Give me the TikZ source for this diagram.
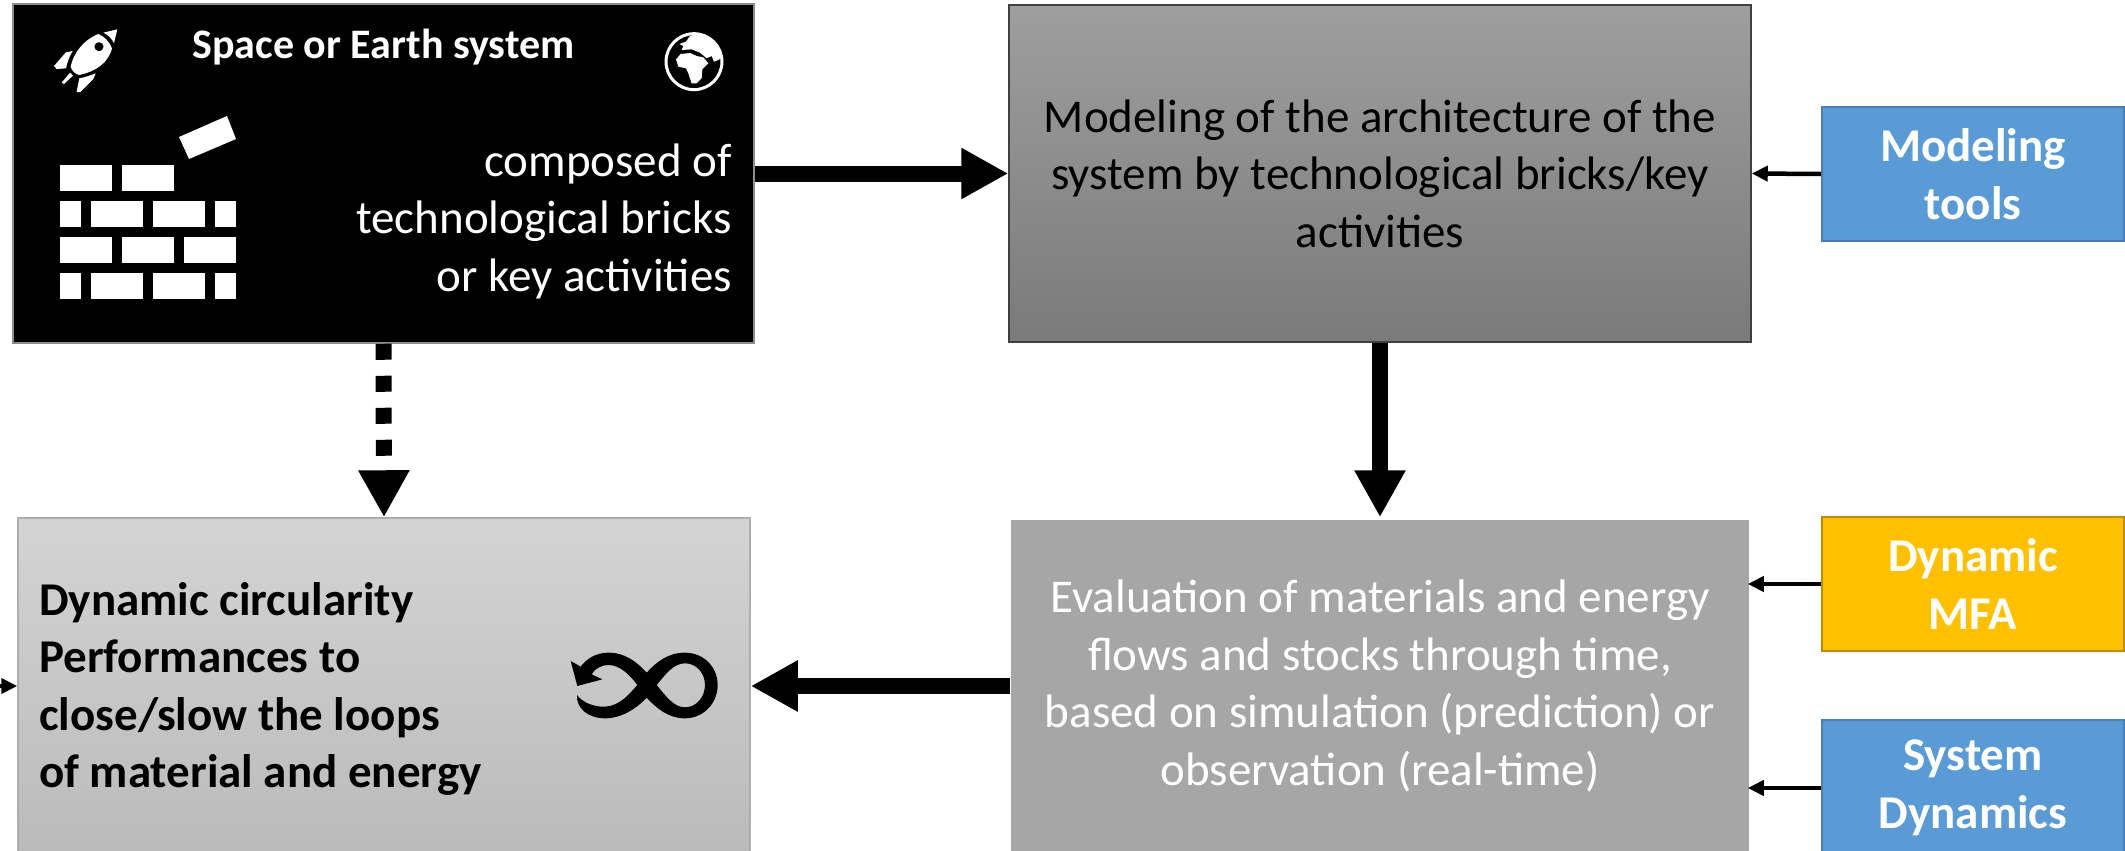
\documentclass[tikz,border=0pt]{standalone}
\usepackage{fontspec}
\setmainfont{Carlito}
\usetikzlibrary{arrows.meta}
\definecolor{bluebox}{HTML}{5B9BD5}
\definecolor{blueedge}{HTML}{4A7EB0}
\definecolor{yellowbox}{HTML}{FFC000}
\definecolor{yellowedge}{HTML}{BC8C00}
\tikzset{
  box/.style={rectangle,inner sep=0pt,line width=1.5pt,align=center,font=\fontsize{47}{57.5}\selectfont},
  toolbox/.style={box,minimum width=302pt,font=\bfseries\fontsize{47}{57.5}\selectfont,text=white,line width=2.5pt},
  bigarrow/.style={line width=16pt,-{Triangle[length=47pt,width=48pt]}},
  smallarrow/.style={line width=4.5pt,-{Triangle[length=16pt,width=15pt]}},
  brick/.style={fill=white,draw=none}
}
\begin{document}
\begin{tikzpicture}[x=1pt,y=-1pt]
\useasboundingbox (0,0) rectangle (2125,851);
% main boxes
\node[box,fill=black,draw=black!45,minimum width=741pt,minimum height=339pt] (sys) at (383.5,173.5) {};
\node[box,top color=black!38,bottom color=black!52,draw=black!75,minimum width=742pt,minimum height=337pt] (model) at (1380,173.5)
  {Modeling of the architecture of the\\system by technological bricks/key\\activities};
\node[box,top color=black!17,bottom color=black!27,draw=black!32,minimum width=732pt,minimum height=336pt] (circ) at (384,686) {};
\node[box,fill=black!35,draw=none,text=white,minimum width=738pt,minimum height=332pt] (eval) at (1380,686)
  {Evaluation of materials and energy\\flows and stocks through time,\\based on simulation (prediction) or\\observation (real-time)};
% tool boxes
\node[toolbox,fill=bluebox,draw=blueedge,minimum height=134pt] (tools) at (1973,174) {Modeling\\tools};
\node[toolbox,fill=yellowbox,draw=yellowedge,minimum height=134pt] (mfa) at (1973,584) {Dynamic\\MFA};
\node[toolbox,fill=bluebox,draw=blueedge,minimum height=136pt] (sd) at (1973,788) {System\\Dynamics};
% texts inside
\node[anchor=base,font=\bfseries\fontsize{42}{50}\selectfont,text=white,inner sep=0pt] (title) at (383.5,59) {Space or Earth system};
\node[anchor=east,align=right,font=\fontsize{47}{57.5}\selectfont,text=white,inner sep=0pt] (composed) at (732,221) {composed of\\technological bricks\\or key activities};
\node[anchor=west,align=left,font=\bfseries\fontsize{47}{57.5}\selectfont,inner sep=0pt] (circtext) at (39,689) {Dynamic circularity\\Performances to\\close/slow the loops\\of material and energy};
% bricks
\foreach \xa/\xb/\ya/\yb in {60/112/165/191,122/174/165/191,
  60/81/201/227,91/143/201/227,153/205/201/227,215/236/201/227,
  60/112/237/263,122/174/237/263,184/236/237/263,
  60/81/273/299,91/143/273/299,153/205/273/299,215/236/273/299}
  \fill[brick] (\xa,\ya) rectangle (\xb,\yb);
\fill[brick] (179,137) -- (227,116) -- (236,139) -- (189,159) -- cycle;
% rocket
\begin{scope}[shift={(30,10)},x=0.3333pt,y=-0.3333pt,even odd rule]
\fill[white] (220,68) -- (262,58) -- (252,100) .. controls (245,85) and (235,75) .. (220,68) -- cycle;
\fill[white] (205,72) .. controls (222,78) and (240,97) .. (246,115) .. controls (235,160) and (195,185) .. (148,195)
  .. controls (135,192) and (125,182) .. (122,170) .. controls (130,130) and (160,90) .. (205,72) -- cycle
  (221,110) circle[radius=0] (193,110) arc[start angle=180,end angle=540,radius=14];
\fill[white] (72,168) -- (108,127) -- (128,123) .. controls (118,140) and (112,155) .. (108,175) -- (80,177) -- cycle;
\fill[white] (140,245) -- (148,205) .. controls (165,202) and (180,197) .. (197,190) -- (190,207) -- (150,247) -- cycle;
\fill[white] (95,218) -- (120,188) -- (129,197) -- (102,222) -- cycle;
\end{scope}
% globe
\begin{scope}[shift={(650,20)},x=0.3333pt,y=-0.3333pt]
\draw[white,line width=3pt] (132,125) circle[radius=84];
\clip (132,125) circle[radius=84];
\fill[white] (78,118) -- (92,102) -- (120,99) -- (140,108) -- (160,112) -- (175,130) -- (157,148) -- (155,175) -- (140,190) -- (125,190) -- (115,160) -- (108,145) -- (85,140) -- cycle;
\fill[white] (88,72) -- (108,65) -- (120,48) -- (150,38) -- (220,70) -- (220,110) -- (205,120) -- (192,125) -- (185,108) -- (170,115) -- (150,98) -- (125,88) -- (95,90) -- (100,78) -- cycle;
\end{scope}
% infinity
\begin{scope}[shift={(550,630)},x=0.3333pt,y=-0.3333pt]
\fill[black,even odd rule] (81,195) .. controls (95,215) and (130,232) .. (165,230) .. controls (210,228) and (240,190) .. (262,165)
 .. controls (240,135) and (210,105) .. (175,105) .. controls (155,105) and (135,115) .. (125,133) -- (157,148) -- (82,168) -- (62,93) -- (92,110)
 .. controls (110,85) and (140,68) .. (175,68) .. controls (225,68) and (260,95) .. (290,128) .. controls (320,95) and (355,68) .. (405,68)
 .. controls (460,68) and (503,110) .. (503,165) .. controls (503,220) and (460,265) .. (405,265) .. controls (355,265) and (320,235) .. (290,203)
 .. controls (260,235) and (215,265) .. (165,265) .. controls (115,265) and (78,235) .. (81,195) -- cycle
 (320,165) .. controls (345,135) and (370,100) .. (405,100) .. controls (440,100) and (465,130) .. (465,165) .. controls (465,200) and (440,232) .. (405,232) .. controls (370,232) and (345,195) .. (320,165) -- cycle;
\end{scope}
% connectors
\coordinate (leftend) at (0,686);
\draw[bigarrow] (sys.east) -- (model.west);
\draw[bigarrow,dash pattern=on 16pt off 16pt] (sys.south) -- (circ.north);
\draw[bigarrow,shorten >=2pt] (model.south) -- (eval.north);
\draw[bigarrow] (eval.west) -- (circ.east);
\draw[smallarrow] (tools.west) -- (model.east);
\draw[smallarrow,shorten >=-2pt] (mfa.west) -- (mfa.west -| eval.east);
\draw[smallarrow,shorten >=-2pt] (sd.west) -- (sd.west -| eval.east);
\draw[smallarrow] (leftend) -- (circ.west);
\end{tikzpicture}
\end{document}
